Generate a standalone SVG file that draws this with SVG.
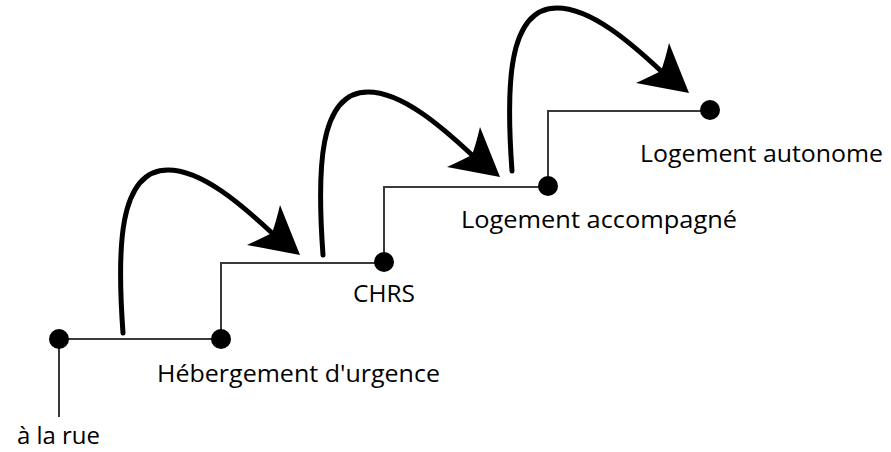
<svg xmlns="http://www.w3.org/2000/svg" xmlns:xlink="http://www.w3.org/1999/xlink" width="891" height="452" viewBox="0 0 891 452">
<style>
.step{fill:none;stroke:#3a3a3a;stroke-width:2}
.dot{fill:#000}
.lbl{font-family:"Open Sans","Liberation Sans",sans-serif;font-size:24px;fill:#000}
.curve{fill:none;stroke:#000;stroke-width:5;stroke-linecap:round}
.head{fill:#000}
</style>
<defs>
<g id="arrow">
<path class="curve" d="M123,333 C117,250 118,170 168,170 C202,170 242,205 272,233"/>
<path class="head" d="M300,255 L280,205 Q276,222 272,233 Q258,240 247,245 Z"/>
</g>
</defs>
<rect width="891" height="452" fill="#fff"/>
<g id="connectors">
<path class="step" d="M59,417 V339 H221 V263 H384 V187 H548 V111 H710"/>
<use xlink:href="#arrow"/>
<use xlink:href="#arrow" transform="translate(200,-78)"/>
<use xlink:href="#arrow" transform="translate(389,-162)"/>
</g>
<g id="rue">
<circle class="dot" cx="59" cy="339" r="10"/>
<text class="lbl" x="17" y="444" textLength="83" lengthAdjust="spacingAndGlyphs">à la rue</text>
</g>
<g id="hebergement">
<circle class="dot" cx="221" cy="339" r="10"/>
<text class="lbl" x="157" y="382" textLength="283" lengthAdjust="spacingAndGlyphs">Hébergement d'urgence</text>
</g>
<g id="chrs">
<circle class="dot" cx="384" cy="262" r="10"/>
<text class="lbl" x="353" y="302" textLength="62" lengthAdjust="spacingAndGlyphs">CHRS</text>
</g>
<g id="accompagne">
<circle class="dot" cx="548" cy="186" r="10"/>
<text class="lbl" x="461" y="228" textLength="276" lengthAdjust="spacingAndGlyphs">Logement accompagné</text>
</g>
<g id="autonome">
<circle class="dot" cx="710" cy="110" r="10"/>
<text class="lbl" x="640" y="162" textLength="243" lengthAdjust="spacingAndGlyphs">Logement autonome</text>
</g>
</svg>
